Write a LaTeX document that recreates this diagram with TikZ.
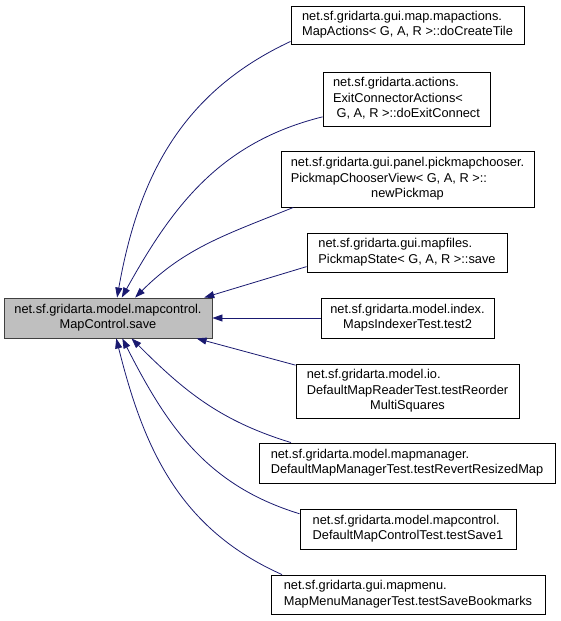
\documentclass[tikz,border=0pt]{standalone}
\usepackage{fontspec}
\setmainfont{Liberation Sans}
\usetikzlibrary{arrows.meta}
\definecolor{edgeblue}{HTML}{191970}
\definecolor{boxgray}{HTML}{BFBFBF}
\definecolor{boxline}{HTML}{404040}
\newcommand{\nlab}[2]{\begin{tabular}{@{}l@{}}#1\\\multicolumn{1}{@{}c@{}}{#2}\end{tabular}}

\begin{document}
\begin{tikzpicture}[x=1pt,y=1pt,
  box/.style={draw=black,fill=white,line width=0.9pt,inner sep=0pt,
    font=\fontsize{12.8}{15.5}\selectfont},
  mainbox/.style={box,draw=boxline,fill=boxgray},
  dep/.style={draw=edgeblue,line width=0.8pt,-{Triangle[length=10pt,width=7pt]}}]
\useasboundingbox (0,0) rectangle (560,-621);

% the called method
\node[mainbox,minimum width=208pt,minimum height=40pt] (save) at (108,-318)
  {\nlab{net.sf.gridarta.model.mapcontrol.}{MapControl.save}};

% callers
\node[box,minimum width=233pt,minimum height=38pt] (tile) at (407.5,-25)
  {\nlab{net.sf.gridarta.gui.map.mapactions.}{MapActions< G, A, R >::doCreateTile}};
\node[box,minimum width=167pt,minimum height=54pt] (exitc) at (406.5,-99)
  {\nlab{net.sf.gridarta.actions.\\ExitConnectorActions<}{\ G, A, R >::doExitConnect}};
\node[box,minimum width=253pt,minimum height=56pt] (pick) at (407.5,-179)
  {\nlab{net.sf.gridarta.gui.panel.pickmapchooser.\\PickmapChooserView< G, A, R >::}{newPickmap}};
\node[box,minimum width=200pt,minimum height=39pt] (pstate) at (407,-252.5)
  {\nlab{net.sf.gridarta.gui.mapfiles.}{PickmapState< G, A, R >::save}};
\node[box,minimum width=173pt,minimum height=40pt] (idx) at (407.5,-318)
  {\nlab{net.sf.gridarta.model.index.}{MapsIndexerTest.test2}};
\node[box,minimum width=223pt,minimum height=54pt] (reader) at (407.5,-391)
  {\nlab{net.sf.gridarta.model.io.\\DefaultMapReaderTest.testReorder}{MultiSquares}};
\node[box,minimum width=296pt,minimum height=40pt] (manager) at (407,-463)
  {\nlab{net.sf.gridarta.model.mapmanager.}{DefaultMapManagerTest.testRevertResizedMap}};
\node[box,minimum width=216pt,minimum height=40pt] (ctrltest) at (408,-529)
  {\nlab{net.sf.gridarta.model.mapcontrol.}{DefaultMapControlTest.testSave1}};
\node[box,minimum width=274pt,minimum height=39pt] (bookmarks) at (408,-594.5)
  {\nlab{net.sf.gridarta.gui.mapmenu.}{MapMenuManagerTest.testSaveBookmarks}};

% call edges
\draw[dep] (tile.188) to[out=205,in=80] (save.66);
\draw[dep] (exitc.192) to[out=194,in=61] (save.56);
\draw[dep] (pick.194) to[out=202,in=45] (save.37);
\draw[dep] (pstate.188) -- (save.12);
\draw[dep] (idx.west) -- (save.east);
\draw[dep] (reader.167) -- (save.347);
\draw[dep] (manager.170) to[out=163,in=-45] (save.319);
\draw[dep] (ctrltest.172) to[out=163,in=-63] (save.305);
\draw[dep] (bookmarks.171) to[out=156,in=-76] (save.292);
\end{tikzpicture}
\end{document}
